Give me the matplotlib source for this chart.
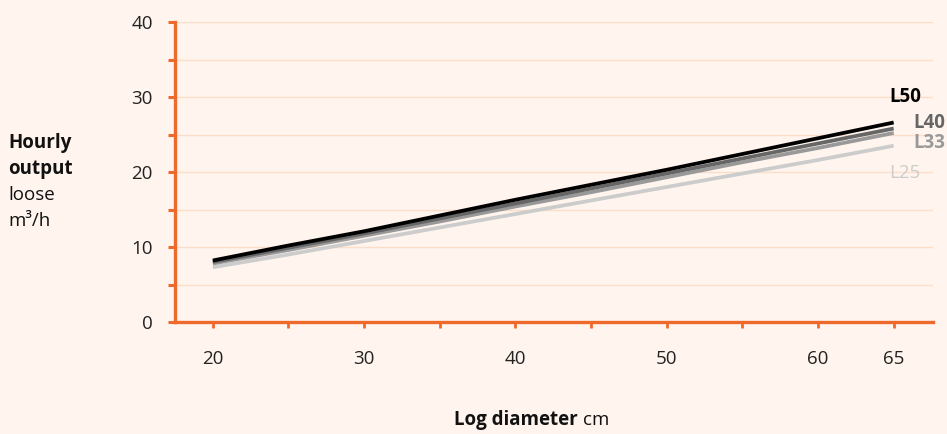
import matplotlib.pyplot as plt
import numpy as np

plt.rcParams['font.family'] = ['Open Sans', 'DejaVu Sans']

# 数据
diameter = [20, 25, 30, 35, 40, 45, 50, 55, 60, 65]
l50 = [8.2, 10.2, 12.1, 14.2, 16.3, 18.3, 20.3, 22.4, 24.5, 26.6]
l40 = [8.0, 9.9, 11.8, 13.8, 15.8, 17.8, 19.8, 21.8, 23.8, 25.8]
l33 = [7.8, 9.6, 11.5, 13.4, 15.4, 17.3, 19.3, 21.3, 23.2, 25.2]
l25 = [7.3, 9.0, 10.8, 12.6, 14.4, 16.2, 18.0, 19.8, 21.6, 23.5]
series_names = ['L25', 'L33', 'L40', 'L50']
x_ticks = [20, 25, 30, 35, 40, 45, 50, 55, 60, 65]
x_ticklabels = ['20', '', '30', '', '40', '', '50', '', '60', '65']
y_ticks = [0, 5, 10, 15, 20, 25, 30, 35, 40]
y_ticklabels = ['0', '', '10', '', '20', '', '30', '', '40']

bg = '#FFF5EE'
orange = '#EE6A2C'
grid_c = '#FBDDC8'
colors = {'L50': '#000000', 'L40': '#666666', 'L33': '#999999', 'L25': '#CCCCCC'}
values = {'L50': l50, 'L40': l40, 'L33': l33, 'L25': l25}

fig = plt.figure(figsize=(9.47, 4.34), dpi=100, facecolor=bg)
ax = fig.add_axes([175 / 947, 1 - 322 / 434, (933 - 175) / 947, 300 / 434])
ax.set_facecolor(bg)

for name in series_names:
    ax.plot(diameter, values[name], color=colors[name], lw=2.7, solid_capstyle='butt', zorder=3)

ax.set_xlim(17.5, 67.6)
ax.set_ylim(0, 40)
ax.set_xticks(x_ticks)
ax.set_xticklabels(x_ticklabels)
ax.set_yticks(y_ticks)
ax.set_yticklabels(y_ticklabels)
ax.get_xticklabels()[-1].set_color('#AAAAAA')

ax.grid(axis='y', color=grid_c, lw=1)
ax.set_axisbelow(True)
for s in ['top', 'right']:
    ax.spines[s].set_visible(False)
for s in ['left', 'bottom']:
    ax.spines[s].set_color(orange)
    ax.spines[s].set_linewidth(2.4)

fs = 13.5
ax.tick_params(axis='x', length=4.5, width=2, color=orange, pad=16, labelsize=fs, labelcolor='#222222')
ax.tick_params(axis='y', length=5, width=2.2, color=orange, pad=11, labelsize=fs, labelcolor='#222222')

# 右侧系列标签
ax.text(64.7, 30.0, 'L50', color=colors['L50'], fontsize=fs, fontweight='bold', va='center', clip_on=False)
ax.text(66.3, 26.5, 'L40', color=colors['L40'], fontsize=fs, fontweight='bold', va='center', clip_on=False)
ax.text(66.3, 23.9, 'L33', color=colors['L33'], fontsize=fs, fontweight='bold', va='center', clip_on=False)
ax.text(64.7, 19.9, 'L25', color=colors['L25'], fontsize=fs, va='center', clip_on=False)

# 纵轴标题
ylab = [('Hourly', 'bold'), ('output', 'bold'), ('loose', 'normal'), ('m³/h', 'normal')]
for i, (s, w) in enumerate(ylab):
    fig.text(8 / 947, 1 - (143 + 26 * i) / 434, s, fontsize=fs, fontweight=w, va='center', color='#111111')

# 横轴标题
fig.text(578 / 947, 1 - 420 / 434, 'Log diameter', fontsize=fs, fontweight='bold', ha='right', va='center', color='#111111')
fig.text(583 / 947, 1 - 420 / 434, 'cm', fontsize=fs, ha='left', va='center', color='#111111')

plt.savefig('out.png', dpi=100, facecolor=bg)
